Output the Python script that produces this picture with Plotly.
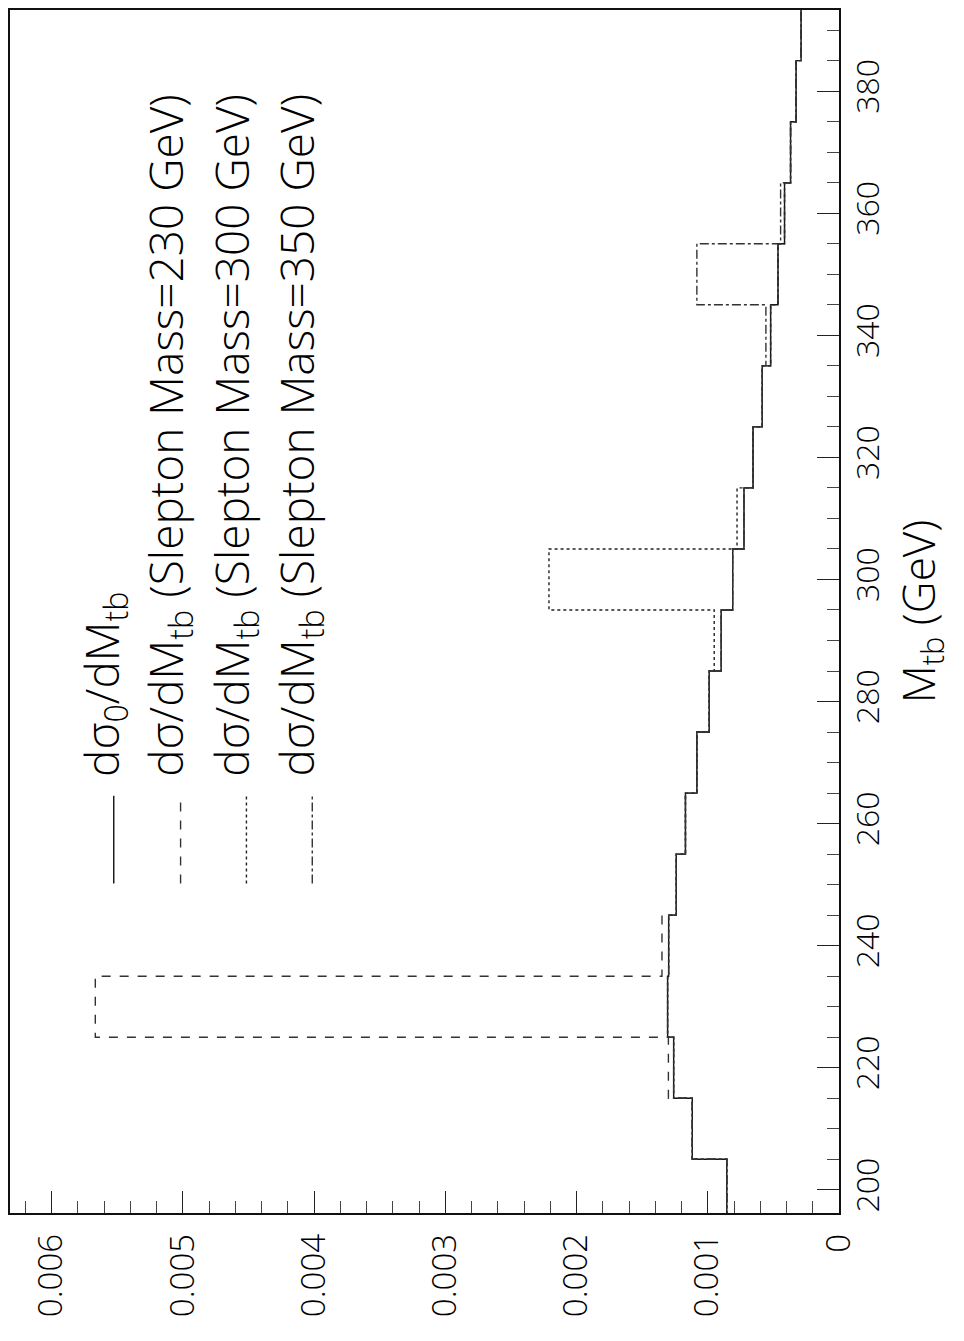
import plotly.graph_objects as go

# bin edges (GeV) and bin values (dsigma/dM)
bin_lo = [195, 205, 215, 225, 235, 245, 255, 265, 275, 285,
          295, 305, 315, 325, 335, 345, 355, 365, 375, 385]
bin_hi_last = 395

sig0 = [0.000855, 0.001118, 0.00126, 0.001306, 0.001298, 0.00124, 0.00117, 0.001083, 0.000989, 0.000898,
        0.00081, 0.000724, 0.000655, 0.000585, 0.000521, 0.000465, 0.000415, 0.000369, 0.000327, 0.000289]
sig230 = [0.000855, 0.001118, 0.0013, 0.005667, 0.001349, 0.00124, 0.00117, 0.001083, 0.000989, 0.000898,
          0.00081, 0.000724, 0.000655, 0.000585, 0.000521, 0.000465, 0.000415, 0.000369, 0.000327, 0.000289]
sig300 = [0.000855, 0.001118, 0.00126, 0.001306, 0.001298, 0.00124, 0.00117, 0.001083, 0.000989, 0.000951,
          0.00221, 0.000777, 0.000655, 0.000585, 0.000521, 0.000465, 0.000415, 0.000369, 0.000327, 0.000289]
sig350 = [0.000855, 0.001118, 0.00126, 0.001306, 0.001298, 0.00124, 0.00117, 0.001083, 0.000989, 0.000898,
          0.00081, 0.000724, 0.000655, 0.000585, 0.000557, 0.001083, 0.000445, 0.000369, 0.000327, 0.000289]

val_ticks = [0, 0.001, 0.002, 0.003, 0.004, 0.005, 0.006]
val_labels = ["0", "0.001", "0.002", "0.003", "0.004", "0.005", "0.006"]

legend_labels = [
    "dσ<sub>0</sub>/dM<sub>tb</sub>",
    "dσ/dM<sub>tb</sub> (Slepton Mass=230 GeV)",
    "dσ/dM<sub>tb</sub> (Slepton Mass=300 GeV)",
    "dσ/dM<sub>tb</sub> (Slepton Mass=350 GeV)",
]
dashes = ["solid", "dash", "dot", "dashdot"]
colors = ["#111111", "#333333", "#222222", "#333333"]

FONT = "Open Sans"
FW = 300
OFF = 8  # page body margin
W, H = 956, 1333
L, R, T, B = 0, 125, 0, 128

fig = go.Figure()
for vals, d, c in zip([sig0, sig230, sig300, sig350], dashes, colors):
    xs = list(vals) + [vals[-1]]
    ys = list(bin_lo) + [bin_hi_last]
    fig.add_trace(go.Scatter(x=xs, y=ys, mode="lines", line=dict(color=c, width=1.4, dash=d, shape="vh"),
                             showlegend=False, hoverinfo="skip"))

pw = W - L - R
ph = H - T - B


def px2paper(px, py):
    # px, py are page coordinates of the reference picture
    return (px - OFF - L) / pw, (H - B - (py - OFF)) / ph


# legend (rotated, like the reference)
line_x = [112, 179, 245, 311]
text_x = [102, 167, 233, 298]
for lab, d, c, lx, tx in zip(legend_labels, dashes, colors, line_x, text_x):
    x0, y0 = px2paper(lx, 883)
    x1, y1 = px2paper(lx, 795)
    fig.add_shape(type="line", xref="paper", yref="paper", x0=x0, y0=y0, x1=x1, y1=y1,
                  line=dict(color=c, width=1.4, dash=d))
    ax, ay = px2paper(tx, 778)
    fig.add_annotation(xref="paper", yref="paper", x=ax, y=ay, text=lab, showarrow=False,
                       textangle=-90, xanchor="center", yanchor="bottom",
                       font=dict(family=FONT, size=46, color="#000000", weight=FW))

fig.update_layout(
    width=W, height=H,
    margin=dict(l=L, r=R, t=T, b=B),
    paper_bgcolor="white", plot_bgcolor="white",
    font=dict(family=FONT, color="#000000"),
    xaxis=dict(range=[0.006317, 0], tickvals=val_ticks, ticktext=val_labels, tickangle=-90,
               ticks="inside", ticklen=22, tickwidth=1.2, tickcolor="#222", ticklabelstandoff=6,
               minor=dict(dtick=0.0002, ticks="inside", ticklen=12, tickwidth=1.2, tickcolor="#444"),
               showgrid=False, zeroline=False, showline=True, linecolor="#111", linewidth=1.5, mirror=True,
               tickfont=dict(family=FONT, size=33, weight=FW, color="#000")),
    yaxis=dict(range=[196.2, 393.3], side="right", tick0=200, dtick=20, tickangle=-90,
               ticks="inside", ticklen=22, tickwidth=1.2, tickcolor="#222",
               minor=dict(dtick=5, tick0=200, ticks="inside", ticklen=12, tickwidth=1.2, tickcolor="#444"),
               showgrid=False, zeroline=False, showline=True, linecolor="#111", linewidth=1.5, mirror=True,
               tickfont=dict(family=FONT, size=32, weight=FW, color="#000"),
               title=dict(text="M<sub>tb</sub> (GeV)", font=dict(family=FONT, size=44, weight=FW, color="#000"),
                          standoff=12)),
)

fig.write_html("out.html")
